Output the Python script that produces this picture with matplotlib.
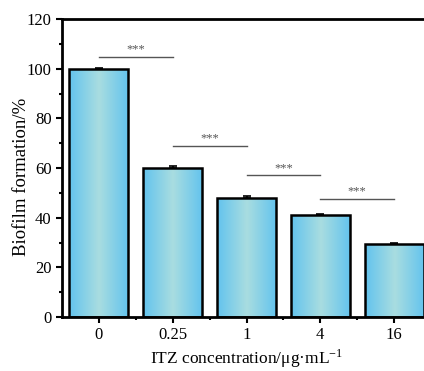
import numpy as np
import matplotlib.pyplot as plt
from matplotlib.colors import LinearSegmentedColormap

plt.rcParams['font.family'] = ['Liberation Serif', 'DejaVu Serif']
plt.rcParams['mathtext.fontset'] = 'stix'

# Data
concentrations = ['0', '0.25', '1', '4', '16']
biofilm = [100.0, 60.0, 47.8, 41.0, 29.2]
errors = [0.4, 0.7, 0.8, 0.5, 0.7]

# significance brackets: (left bar, right bar, height)
sig_pairs = [(0, 1, 104.8), (1, 2, 69.0), (2, 3, 57.0), (3, 4, 47.6)]
sig_label = '***'

fig = plt.figure(figsize=(4.24, 3.71), dpi=100)
# axes runs past the right edge of the figure, like the cropped original
ax = fig.add_axes([62 / 424, 54 / 371, 369 / 424, 298 / 371])

x = np.arange(len(concentrations))
bars = ax.bar(x, biofilm, width=0.8, color='none', edgecolor='black',
              linewidth=1.8, zorder=3)

# horizontal gradient fill for each bar
cmap = LinearSegmentedColormap.from_list('bar', ['#62c3ee', '#a9dde0', '#62c3ee'])
grad = np.linspace(0, 1, 256).reshape(1, -1)
for b in bars:
    x0, w, h = b.get_x(), b.get_width(), b.get_height()
    im = ax.imshow(grad, cmap=cmap, extent=[x0, x0 + w, 0, h],
                   aspect='auto', zorder=2)
    im.set_clip_path(b)

ax.errorbar(x, biofilm, yerr=[np.zeros(len(errors)), errors], fmt='none',
            ecolor='black', elinewidth=1.2, capsize=3, capthick=1.2, zorder=4)

for i, j, h in sig_pairs:
    ax.plot([x[i], x[j]], [h, h], color='#555555', lw=1.0, zorder=5)
    ax.text((x[i] + x[j]) / 2, h + 0.5, sig_label, ha='center', va='bottom',
            fontsize=9, color='#555555')

ax.set_xlim(-0.5, 4.5)
ax.set_ylim(0, 120)
ax.set_xticks(x)
ax.set_xticklabels(concentrations)
ax.set_xticks(x[:-1] + 0.5, minor=True)
ax.set_yticks(np.arange(0, 121, 20))
ax.set_yticks(np.arange(10, 120, 20), minor=True)
ax.tick_params(axis='both', which='major', direction='out', length=4,
               width=1.5, labelsize=12)
ax.tick_params(axis='both', which='minor', direction='out', length=2.5,
               width=1.5)

for side in ['left', 'bottom', 'top']:
    ax.spines[side].set_linewidth(2)
ax.spines['right'].set_visible(False)

ax.set_ylabel('Biofilm formation/%', fontsize=13.5)
ax.yaxis.set_label_coords(-0.087, 0.47)
ax.set_xlabel(r'ITZ concentration/μg·mL$^{\mathregular{-1}}$', fontsize=12.5,
              labelpad=3)

fig.savefig('out.png', dpi=100)
